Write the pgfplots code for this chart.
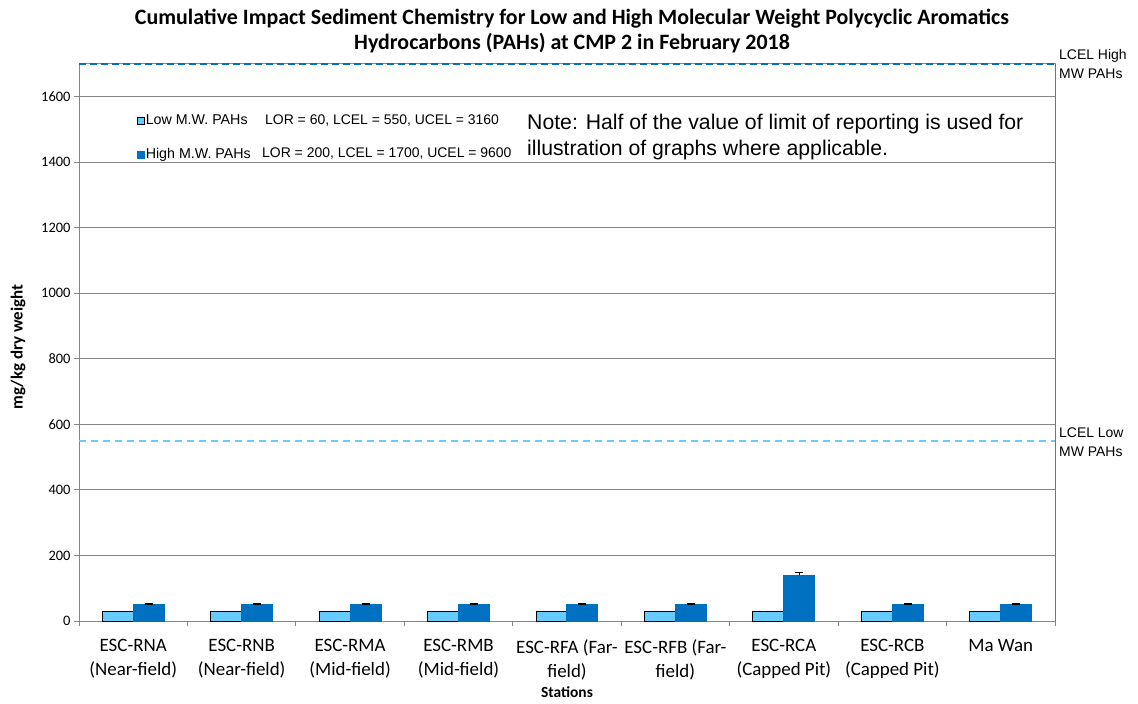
\documentclass[border=0pt]{standalone}
\usepackage{pgfplots}
\pgfplotsset{compat=1.18}
\usepackage{fontspec}
\setmainfont{Carlito}
\newfontfamily\arial{Liberation Sans}
\definecolor{lowc}{HTML}{66CCFF}
\definecolor{highc}{HTML}{0070C0}
\definecolor{gridc}{HTML}{868686}
\begin{document}
\begin{tikzpicture}
\begin{axis}[
 scale only axis, width=976bp, height=557bp,
 xmin=-0.5, xmax=8.5, ymin=0, ymax=1700,
 axis line style={gridc, line width=1bp},
 ytick={0,200,...,1600},
 ymajorgrids, grid style={gridc, line width=1bp},
 tick align=outside,
 major tick length=5bp,
 tick style={gridc, line width=1bp},
 xtick={-0.5,0.5,...,8.5},
 xticklabels={,,,,,,,,,},
 extra x ticks={0,1,2,3,4,5,6,7,8},
 extra x tick labels={{ESC-RNA\\(Near-field)},{ESC-RNB\\(Near-field)},{ESC-RMA\\(Mid-field)},{ESC-RMB\\(Mid-field)},{ESC-RFA (Far-\\field)},{ESC-RFB (Far-\\field)},{ESC-RCA\\(Capped Pit)},{ESC-RCB\\(Capped Pit)},{Ma Wan}},
 extra x tick style={major tick length=0pt, grid=none, xticklabel style={align=center, font=\fontsize{19}{24}\selectfont, anchor=north, yshift=-15bp}},
 yticklabel style={font=\fontsize{14.5}{17}\selectfont},
 /pgf/number format/assume math mode=true,
 /pgf/number format/1000 sep={},
 ytick pos=left, xtick pos=bottom,
 legend style={draw=none, fill=none, at={(rel axis cs:0.059,0.868)}, anchor=west,
   font=\arial\fontsize{14.3}{16}\selectfont, row sep=19bp, inner sep=0pt,
   nodes={inner sep=1bp, text height=10bp, text depth=3bp}},
 legend cell align=left,
]
\addplot[forget plot, highc, line width=2bp, dash pattern=on 7bp off 4bp] coordinates {(-0.5,1700) (8.5,1700)};
\addplot[forget plot, lowc, line width=2bp, dash pattern=on 7bp off 5bp] coordinates {(-0.5,550) (8.5,550)};
\addplot[ybar, bar width=31bp, bar shift=0bp, fill=lowc, draw=black, line width=1bp,
  legend image code/.code={\draw[fill=lowc, draw=black, line width=0.8bp] (0bp,-3.5bp) rectangle (7bp,3.5bp);}]
 coordinates {(-0.1429,30) (0.8571,30) (1.8571,30) (2.8571,30) (3.8571,30) (4.8571,30) (5.8571,30) (6.8571,30) (7.8571,30)};
\addlegendentry{Low M.W. PAHs}
\addplot[ybar, bar width=31bp, bar shift=0bp, fill=highc, draw=highc, line width=1bp,
  legend image code/.code={\draw[fill=highc, draw=highc] (0bp,-3.5bp) rectangle (7bp,3.5bp);},
  error bars/.cd, y dir=plus, y explicit, error bar style={black, line width=1.2bp},
  error mark options={black, rotate=90, mark size=4bp, line width=1.2bp}]
 coordinates {(0.1429,50) +- (0,2) (1.1429,50) +- (0,2) (2.1429,50) +- (0,2) (3.1429,50) +- (0,2) (4.1429,50) +- (0,2) (5.1429,50) +- (0,2) (6.1429,139) +- (0,8) (7.1429,50) +- (0,2) (8.1429,50) +- (0,2)};
\addlegendentry{High M.W. PAHs}
\draw[black, line width=1bp] (rel axis cs:1,0) -- (rel axis cs:1,1);
\end{axis}
\coordinate (O) at (current axis.south west);
\node[font=\bfseries\fontsize{22}{26}\selectfont, align=center] at ([shift={(493bp,590bp)}]O) {Cumulative Impact Sediment Chemistry for Low and High Molecular Weight Polycyclic Aromatics\\Hydrocarbons (PAHs) at CMP 2 in February 2018};
\node[font=\bfseries\fontsize{17}{20}\selectfont, rotate=90] at ([shift={(-61bp,274bp)}]O) {mg/kg dry weight};
\node[font=\bfseries\fontsize{15.5}{18}\selectfont] at ([shift={(488bp,-71bp)}]O) {Stations};
\node[font=\arial\fontsize{14}{19}\selectfont, align=left, anchor=west, inner sep=0pt] at ([shift={(4bp,557bp)}]current axis.south east) {LCEL High\\MW PAHs};
\node[font=\arial\fontsize{14}{19}\selectfont, align=left, anchor=west, inner sep=0pt] at ([shift={(4bp,179bp)}]current axis.south east) {LCEL Low\\MW PAHs};
\node[font=\arial\fontsize{14}{16}\selectfont, anchor=west, inner sep=0pt] at ([shift={(186bp,500bp)}]O) {LOR = 60, LCEL = 550, UCEL = 3160};
\node[font=\arial\fontsize{14}{16}\selectfont, anchor=west, inner sep=0pt] at ([shift={(183bp,467bp)}]O) {LOR = 200, LCEL = 1700, UCEL = 9600};
\node[font=\arial\fontsize{21.3}{26}\selectfont, align=left, anchor=north west, inner sep=0pt] at ([shift={(448bp,507bp)}]O) {Note: Half of the value of limit of reporting is used for\\illustration of graphs where applicable.};
\pgfresetboundingbox
\path[use as bounding box] ([shift={(-79bp,-83bp)}]O) rectangle ++(1138bp,704bp);
\end{tikzpicture}
\end{document}
